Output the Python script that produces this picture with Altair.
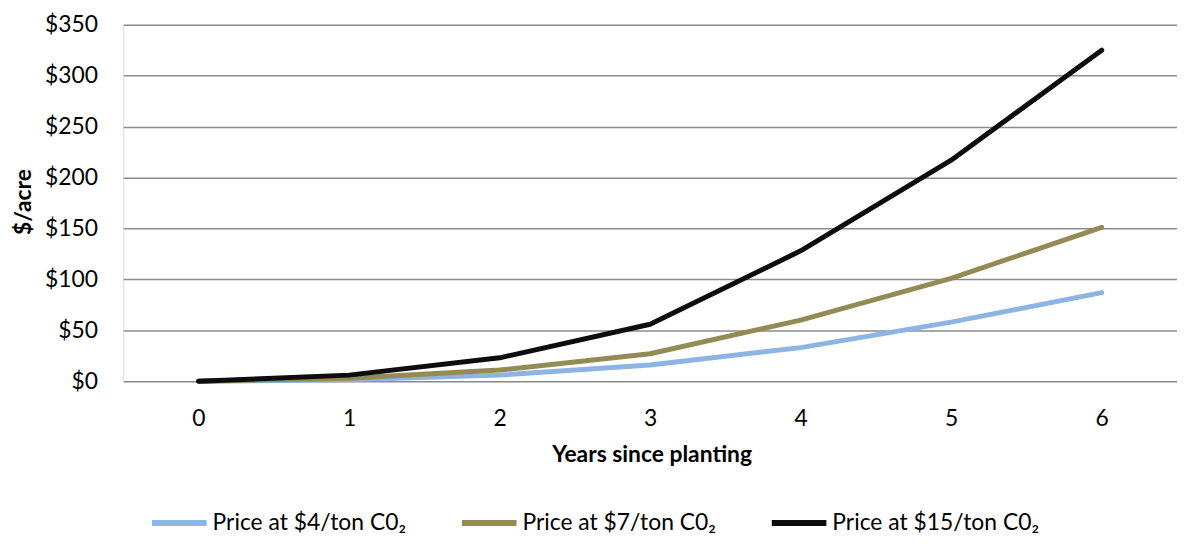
import altair as alt
import pandas as pd

years = [0, 1, 2, 3, 4, 5, 6]
series_names = ["Price at $4/ton C0₂", "Price at $7/ton C0₂", "Price at $15/ton C0₂"]
price_4 = [0, 1.5, 6, 16, 33, 58, 87]
price_7 = [0, 3, 11, 27, 60, 101, 151]
price_15 = [0, 6, 23, 56, 128, 217, 325]
colors = ["#8EB4E3", "#948A54", "#0D0D0D"]
y_ticks = [0, 50, 100, 150, 200, 250, 300, 350]

rows = []
for name, vals in zip(series_names, [price_4, price_7, price_15]):
    for yr, v in zip(years, vals):
        rows.append({"year": str(yr), "value": v, "series": name})
df = pd.DataFrame(rows)

FONT = "Lato"

chart = alt.Chart(df).mark_line(
    strokeWidth=5, strokeCap="round", strokeJoin="round"
).encode(
    x=alt.X(
        "year:N",
        sort=[str(y) for y in years],
        axis=alt.Axis(
            title="Years since planting",
            labelAngle=0,
            labelFont=FONT,
            labelFontSize=23,
            labelColor="#000000",
            labelBaseline="alphabetic",
            labelPadding=45,
            ticks=False,
            tickSize=0,
            domain=False,
            grid=False,
            titleFont=FONT,
            titleFontSize=23,
            titleFontWeight="bold",
            titleColor="#000000",
            titleBaseline="alphabetic",
            titleX=532,
            titleY=81,
        ),
    ),
    y=alt.Y(
        "value:Q",
        scale=alt.Scale(domain=[0, 350], nice=False),
        axis=alt.Axis(
            title="$/acre",
            values=y_ticks,
            labelExpr="'$' + datum.value",
            labelFont=FONT,
            labelFontSize=23,
            labelColor="#000000",
            labelPadding=26,
            ticks=False,
            tickSize=0,
            domain=False,
            grid=True,
            gridColor="#8c8c8c",
            gridWidth=1.5,
            titleFont=FONT,
            titleFontSize=23,
            titleFontWeight="bold",
            titleColor="#000000",
            titleAngle=-90,
            titleAlign="center",
            titleBaseline="middle",
            titleX=-100,
            titleY=178,
        ),
    ),
    color=alt.Color(
        "series:N",
        sort=series_names,
        scale=alt.Scale(domain=series_names, range=colors),
        legend=alt.Legend(
            title=None,
            orient="none",
            direction="horizontal",
            legendX=26,
            legendY=471,
            padding=0,
            symbolType="stroke",
            symbolSize=3025,
            symbolStrokeWidth=6,
            labelFont=FONT,
            labelFontSize=23,
            labelColor="#000000",
            labelOffset=3,
            columnPadding=44,
            labelLimit=400,
        ),
    ),
).properties(
    width=1061,
    height=359,
    autosize=alt.AutoSizeParams(type="none"),
    padding={"left": 116, "top": 15, "right": 0, "bottom": 154},
).configure_view(stroke=None).configure(background="#ffffff")

chart.save("out.html", embed_options={"renderer": "svg", "actions": False})
